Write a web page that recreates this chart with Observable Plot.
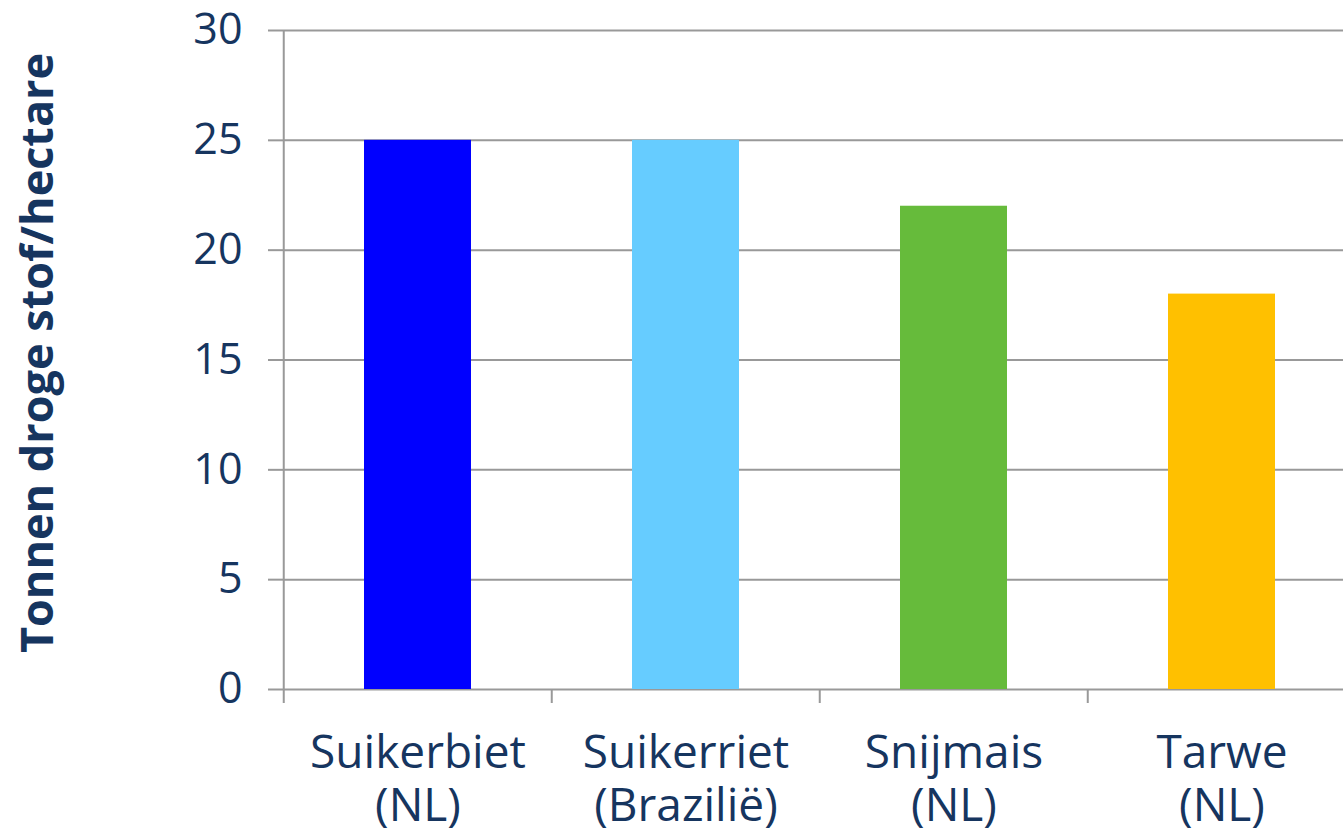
<!DOCTYPE html>
<html>
<head>
<meta charset="utf-8">
<script src="https://cdn.jsdelivr.net/npm/d3@7"></script>
<script src="https://cdn.jsdelivr.net/npm/@observablehq/plot@0.6"></script>
<style>
  html, body { margin: 0; padding: 0; background: #ffffff; }
  #chart { width: 1343px; height: 830px; overflow: hidden; }
</style>
</head>
<body>
<div id="chart"></div>
<script>
// Crop yields, dry matter per hectare
const categories = ["Suikerbiet", "Suikerriet", "Snijmais", "Tarwe"];
const regions = ["(NL)", "(Brazilië)", "(NL)", "(NL)"];
const values = [25, 25, 22, 18];
const barColors = ["#0000FF", "#66CCFF", "#66BB3B", "#FFC000"];
const yTicks = [0, 5, 10, 15, 20, 25, 30];
const yTitle = "Tonnen droge stof/hectare";

const data = categories.map((name, i) => ({name, region: regions[i], value: values[i]}));

const navy = "#16355F";
const gray = "#999999";
const xRange = [283, 1357];
const step = (xRange[1] - xRange[0]) / categories.length;

const chart = Plot.plot({
  width: 1343,
  height: 830,
  marginLeft: 283,
  marginRight: 0,
  marginTop: 30,
  marginBottom: 141,
  style: {fontFamily: "'Open Sans', sans-serif", background: "#ffffff", color: navy},
  x: {type: "band", domain: categories, range: xRange, paddingInner: 0.6, paddingOuter: 0.3, axis: null},
  y: {domain: [0, 30], axis: null},
  color: {domain: categories, range: barColors},
  marks: [
    // horizontal gridlines (the one at 0 doubles as the category axis line)
    Plot.ruleY(yTicks, {stroke: gray, strokeWidth: 2}),
    // value axis: ticks and labels
    Plot.axisY({ticks: yTicks, tickSize: 15, tickPadding: 26, fontSize: 43, stroke: gray, strokeWidth: 2, fill: navy, label: null}),
    // vertical axis line, running past zero like the category ticks
    Plot.ruleX([categories[0]], {x: d => d, dx: -step / 2, insetBottom: -14, stroke: gray, strokeWidth: 2}),
    // category separator ticks below the zero line
    Plot.ruleX(categories.slice(1), {x: d => d, dx: -step / 2, y1: 0, y2: 0, insetBottom: -14, stroke: gray, strokeWidth: 2}),
    Plot.barY(data, {x: "name", y: "value", fill: "name"}),
    // two-line category labels
    Plot.text(data, {
      x: "name", y: 0, text: d => d.name + "\n" + d.region,
      dy: 41, lineAnchor: "top", lineHeight: 1.15, fontSize: 46, fill: navy
    }),
    // rotated value-axis title
    Plot.text([yTitle], {
      frameAnchor: "left", textAnchor: "middle", lineAnchor: "middle",
      dx: -245, dy: -7, rotate: -90,
      fontSize: 45, fontWeight: "bold", fill: navy
    })
  ]
});

document.getElementById("chart").appendChild(chart);
</script>
</body>
</html>
